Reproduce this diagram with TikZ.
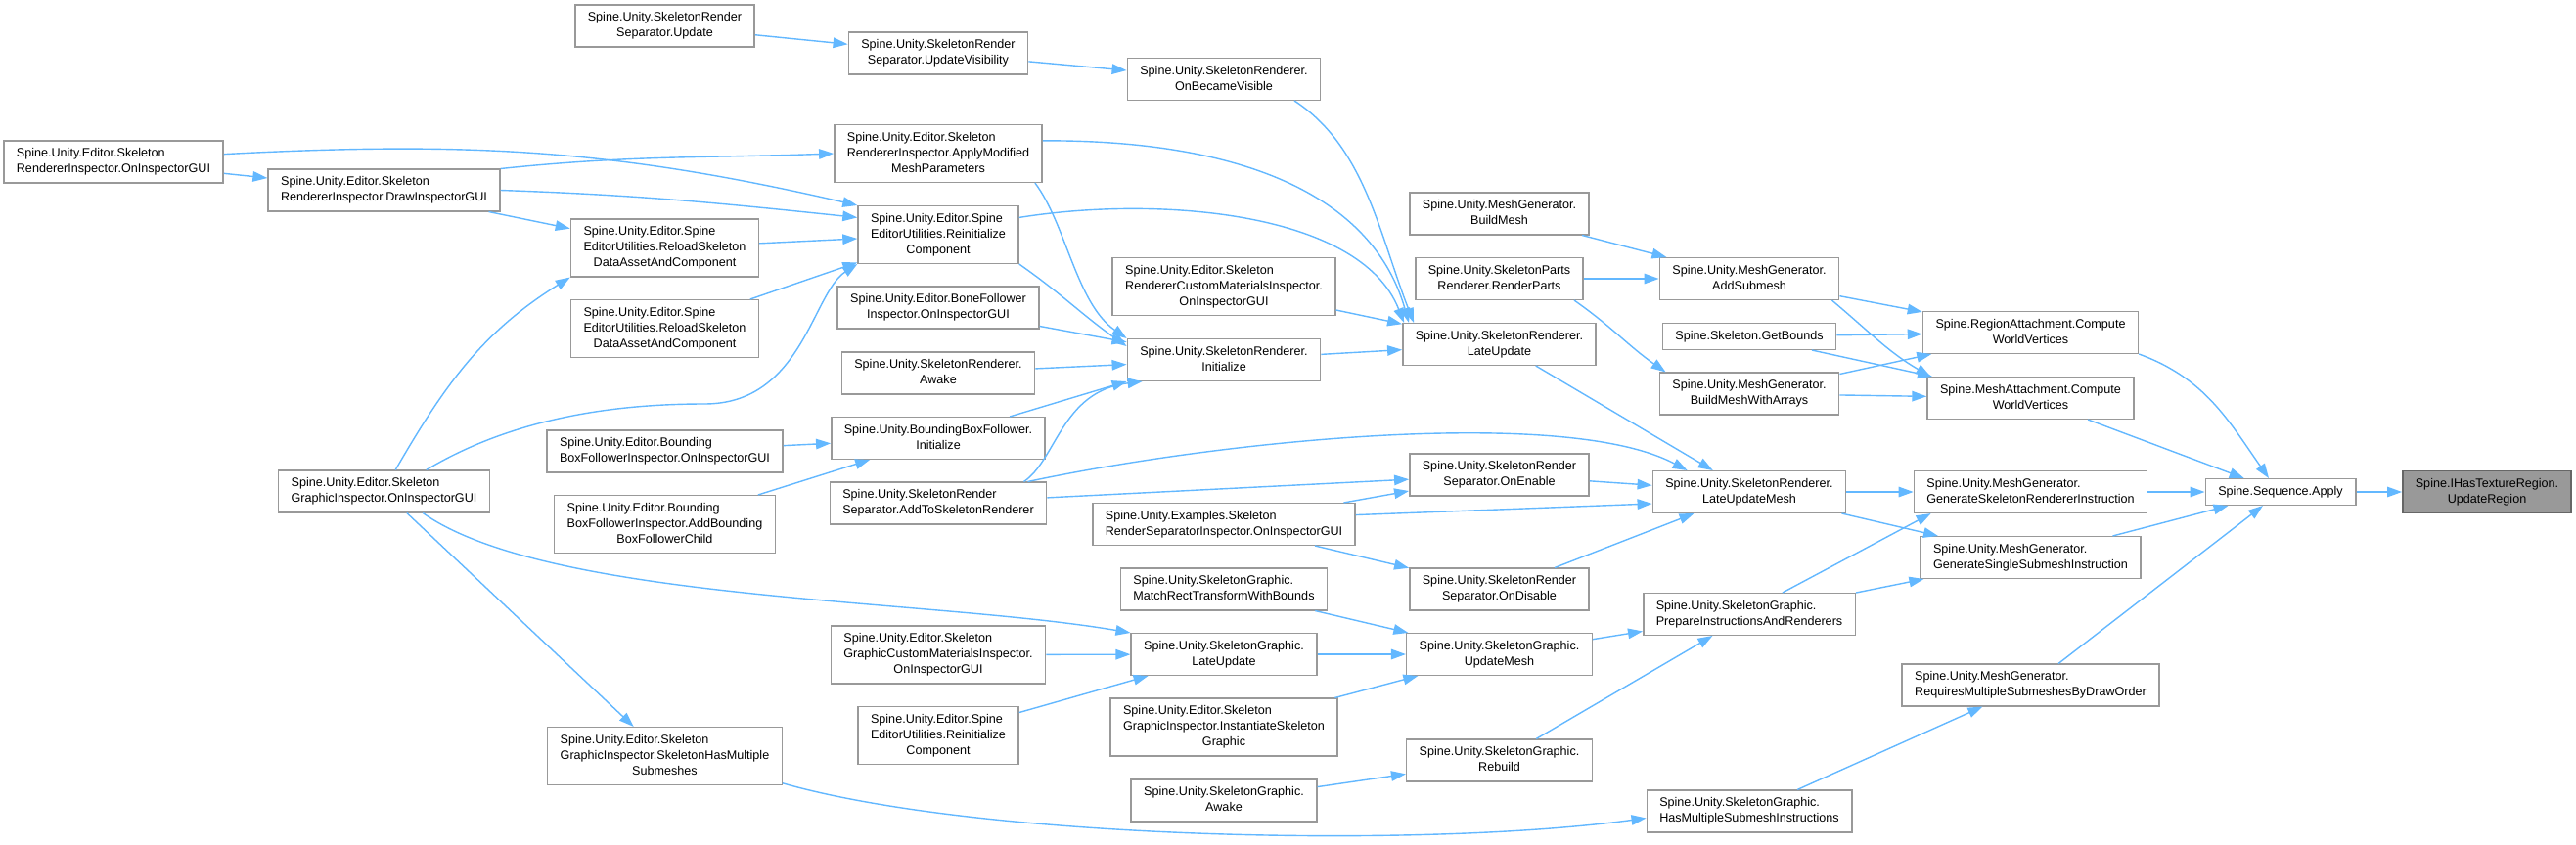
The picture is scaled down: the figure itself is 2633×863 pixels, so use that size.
\documentclass[tikz,border=0pt]{standalone}
\usepackage{fontspec}
\setmainfont{Liberation Sans}
\usetikzlibrary{arrows.meta}
\definecolor{cgEdge}{HTML}{63B8FF}
\definecolor{cgFrame}{HTML}{999999}
\definecolor{cgCurFill}{HTML}{999999}
\definecolor{cgCurFrame}{HTML}{666666}
\newcommand{\cgfont}{\fontsize{12.6}{16}\selectfont}
\newcommand{\lastln}[1]{\hspace*{\fill}#1\hspace*{\fill}}
\tikzset{
    fnode/.style={draw=cgFrame, fill=white, line width=1.5pt, align=left, inner xsep=13pt, inner ysep=7.4pt, font=\cgfont, execute at end node={\vphantom{p}}},
    curfn/.style={fnode, fill=cgCurFill, draw=cgCurFrame},
    callarrow/.style={draw=cgEdge, line width=1.4pt, -{Triangle[length=15pt,width=10.5pt]}}
}
\begin{document}
\begin{tikzpicture}[x=1pt,y=1pt]
\fill[white] (0,0) rectangle (2633,-863);
\useasboundingbox (0,0) rectangle (2633,-863);
% column 0
\node[fnode] (SRIOnInsp) at (116,-165.5) {Spine.Unity.Editor.Skeleton\\\lastln{RendererInspector.OnInspectorGUI}};
% column 1
\node[fnode] (SRIDraw) at (392.5,-194.5) {Spine.Unity.Editor.Skeleton\\\lastln{RendererInspector.DrawInspectorGUI}};
\node[fnode] (SGIOnInsp) at (392.5,-502.5) {Spine.Unity.Editor.Skeleton\\\lastln{GraphicInspector.OnInspectorGUI}};
% column 2
\node[fnode] (SRSUpdate) at (679.5,-26.5) {Spine.Unity.SkeletonRender\\\lastln{Separator.Update}};
\node[fnode] (SEUReload1) at (679.5,-253.5) {Spine.Unity.Editor.Spine\\EditorUtilities.ReloadSkeleton\\\lastln{DataAssetAndComponent}};
\node[fnode] (SEUReload2) at (679.5,-336) {Spine.Unity.Editor.Spine\\EditorUtilities.ReloadSkeleton\\\lastln{DataAssetAndComponent}};
\node[fnode] (BBFInsp) at (679.5,-461.5) {Spine.Unity.Editor.Bounding\\\lastln{BoxFollowerInspector.OnInspectorGUI}};
\node[fnode] (BBFAdd) at (679.5,-536) {Spine.Unity.Editor.Bounding\\BoxFollowerInspector.AddBounding\\\lastln{BoxFollowerChild}};
\node[fnode] (SGIHasMult) at (679.5,-773) {Spine.Unity.Editor.Skeleton\\GraphicInspector.SkeletonHasMultiple\\\lastln{Submeshes}};
% column 3
\node[fnode] (SRSUpdVis) at (959,-54.5) {Spine.Unity.SkeletonRender\\\lastln{Separator.UpdateVisibility}};
\node[fnode] (SRIApply) at (959,-157) {Spine.Unity.Editor.Skeleton\\RendererInspector.ApplyModified\\\lastln{MeshParameters}};
\node[fnode] (SEUReinit1) at (959,-240) {Spine.Unity.Editor.Spine\\EditorUtilities.Reinitialize\\\lastln{Component}};
\node[fnode] (BFInsp) at (959,-314.5) {Spine.Unity.Editor.BoneFollower\\\lastln{Inspector.OnInspectorGUI}};
\node[fnode] (SRAwake) at (959,-381.5) {Spine.Unity.SkeletonRenderer.\\\lastln{Awake}};
\node[fnode] (BBFInit) at (959,-448) {Spine.Unity.BoundingBoxFollower.\\\lastln{Initialize}};
\node[fnode] (SRSAddTo) at (959,-514.5) {Spine.Unity.SkeletonRender\\\lastln{Separator.AddToSkeletonRenderer}};
\node[fnode] (SGCMInsp) at (959,-669.5) {Spine.Unity.Editor.Skeleton\\GraphicCustomMaterialsInspector.\\\lastln{OnInspectorGUI}};
\node[fnode] (SEUReinit2) at (959,-752) {Spine.Unity.Editor.Spine\\EditorUtilities.Reinitialize\\\lastln{Component}};
% column 4
\node[fnode] (SROnBecVis) at (1251,-81) {Spine.Unity.SkeletonRenderer.\\\lastln{OnBecameVisible}};
\node[fnode] (SRCMInsp) at (1251,-293) {Spine.Unity.Editor.Skeleton\\RendererCustomMaterialsInspector.\\\lastln{OnInspectorGUI}};
\node[fnode] (SRInit) at (1251,-368) {Spine.Unity.SkeletonRenderer.\\\lastln{Initialize}};
\node[fnode] (SRSIOnInsp) at (1251,-536) {Spine.Unity.Examples.Skeleton\\\lastln{RenderSeparatorInspector.OnInspectorGUI}};
\node[fnode] (SGMatch) at (1251,-602.5) {Spine.Unity.SkeletonGraphic.\\\lastln{MatchRectTransformWithBounds}};
\node[fnode] (SGLateUpd) at (1251,-669) {Spine.Unity.SkeletonGraphic.\\\lastln{LateUpdate}};
\node[fnode] (SGIInst) at (1251,-743.5) {Spine.Unity.Editor.Skeleton\\GraphicInspector.InstantiateSkeleton\\\lastln{Graphic}};
\node[fnode] (SGAwake) at (1251,-818.5) {Spine.Unity.SkeletonGraphic.\\\lastln{Awake}};
% column 5
\node[fnode] (MGBuildMesh) at (1532.5,-218.5) {Spine.Unity.MeshGenerator.\\\lastln{BuildMesh}};
\node[fnode] (SPRRender) at (1532.5,-285) {Spine.Unity.SkeletonParts\\\lastln{Renderer.RenderParts}};
\node[fnode] (SRLateUpd) at (1532.5,-352) {Spine.Unity.SkeletonRenderer.\\\lastln{LateUpdate}};
\node[fnode] (SRSOnEnable) at (1532.5,-485.5) {Spine.Unity.SkeletonRender\\\lastln{Separator.OnEnable}};
\node[fnode] (SRSOnDisable) at (1532.5,-602.5) {Spine.Unity.SkeletonRender\\\lastln{Separator.OnDisable}};
\node[fnode] (SGUpdateMesh) at (1532.5,-669) {Spine.Unity.SkeletonGraphic.\\\lastln{UpdateMesh}};
\node[fnode] (SGRebuild) at (1532.5,-777.5) {Spine.Unity.SkeletonGraphic.\\\lastln{Rebuild}};
% column 6
\node[fnode] (MGAddSub) at (1788,-285) {Spine.Unity.MeshGenerator.\\\lastln{AddSubmesh}};
\node[fnode] (SkGetBounds) at (1788,-344) {Spine.Skeleton.GetBounds};
\node[fnode] (MGBMWA) at (1788,-402.5) {Spine.Unity.MeshGenerator.\\\lastln{BuildMeshWithArrays}};
\node[fnode] (SRLUMesh) at (1788,-503) {Spine.Unity.SkeletonRenderer.\\\lastln{LateUpdateMesh}};
\node[fnode] (SGPrepare) at (1788,-628) {Spine.Unity.SkeletonGraphic.\\\lastln{PrepareInstructionsAndRenderers}};
\node[fnode] (SGHasMult) at (1788,-829.5) {Spine.Unity.SkeletonGraphic.\\\lastln{HasMultipleSubmeshInstructions}};
% column 7
\node[fnode] (RACompute) at (2075.5,-340) {Spine.RegionAttachment.Compute\\\lastln{WorldVertices}};
\node[fnode] (MACompute) at (2075.5,-407) {Spine.MeshAttachment.Compute\\\lastln{WorldVertices}};
\node[fnode] (MGGenSkel) at (2075.5,-503) {Spine.Unity.MeshGenerator.\\\lastln{GenerateSkeletonRendererInstruction}};
\node[fnode] (MGGenSingle) at (2075.5,-570) {Spine.Unity.MeshGenerator.\\\lastln{GenerateSingleSubmeshInstruction}};
\node[fnode] (MGRequires) at (2075.5,-700.5) {Spine.Unity.MeshGenerator.\\\lastln{RequiresMultipleSubmeshesByDrawOrder}};
% columns 8, 9
\node[fnode] (SeqApply) at (2331,-503) {Spine.Sequence.Apply};
\node[curfn] (UpdateRegion) at (2542,-503) {Spine.IHasTextureRegion.\\\lastln{UpdateRegion}};

\draw[callarrow] (SRSUpdate) -- (SRSUpdVis);
\draw[callarrow] (SRSUpdVis) -- (SROnBecVis);
\draw[callarrow] (SROnBecVis.-17) .. controls (1395,-150) and (1410,-240) .. ([xshift=12pt]SRLateUpd.north west);
\draw[callarrow] (SRIOnInsp) -- (SRIDraw);
\draw[callarrow] (SRIOnInsp.4) to[out=3,in=167] (SEUReinit1.north west);
\draw[callarrow] (SRIDraw.north east) to[out=6,in=182] (SRIApply.west);
\draw[callarrow] (SRIDraw.east) to[out=-2,in=174] (SEUReinit1.168);
\draw[callarrow] (SRIDraw) -- (SEUReload1);
\draw[callarrow] (SGIOnInsp.62) to[out=60,in=212] (SEUReload1.south west);
\draw[callarrow] (SGIOnInsp.27) .. controls (520,-430) and (620,-413) .. (720,-413) .. controls (820,-413) and (830,-300) .. (SEUReinit1.south west);
\draw[callarrow] (SEUReload1) -- (SEUReinit1);
\draw[callarrow] (SEUReload2) -- (SEUReinit1);
\draw[callarrow] (SRIApply.7) .. controls (1250,-143) and (1400,-190) .. ([xshift=7pt]SRLateUpd.north west);
\draw[callarrow] (SEUReinit1.12) .. controls (1180,-200) and (1390,-215) .. ([xshift=2pt]SRLateUpd.north west);
\draw[callarrow] (SRCMInsp) -- (SRLateUpd);
\draw[callarrow] (SRInit) -- (SRLateUpd);
\draw[callarrow] ([xshift=-8pt]SRIApply.south east) .. controls (1090,-230) and (1100,-310) .. (SRInit.north west);
\draw[callarrow] (SEUReinit1.south east) to[out=-35,in=145] (SRInit.172);
\draw[callarrow] (BFInsp) -- (SRInit);
\draw[callarrow] (SRAwake) -- (SRInit);
\draw[callarrow] (BBFInit) -- (SRInit.south west);
\draw[callarrow] ([xshift=-24pt]SRSAddTo.north east) .. controls (1080,-470) and (1085,-400) .. ([xshift=16pt]SRInit.south west);
\draw[callarrow] (BBFInsp) -- (BBFInit);
\draw[callarrow] (BBFAdd) -- (BBFInit);
\draw[callarrow] (SRSAddTo) -- (SRSOnEnable);
\draw[callarrow] ([xshift=-20pt]SRSAddTo.north east) .. controls (1250,-450) and (1600,-415) .. ([xshift=36pt]SRLUMesh.north west);
\draw[callarrow] (SRSIOnInsp) -- (SRSOnEnable);
\draw[callarrow] (SRSIOnInsp.4) -- ([yshift=-12pt]SRLUMesh.west);
\draw[callarrow] (SRSIOnInsp) -- (SRSOnDisable);
\draw[callarrow] (SRSOnEnable) -- (SRLUMesh);
\draw[callarrow] (SRSOnDisable) -- (SRLUMesh);
\draw[callarrow] (SRLateUpd) -- (SRLUMesh);
\draw[callarrow] (SRLUMesh) -- (MGGenSkel);
\draw[callarrow] (SRLUMesh) -- (MGGenSingle);
\draw[callarrow] (SGPrepare.33) -- ([xshift=18pt]MGGenSkel.south west);
\draw[callarrow] (SGPrepare) -- (MGGenSingle);
\draw[callarrow] (SGMatch) -- (SGUpdateMesh);
\draw[callarrow] (SGLateUpd) -- (SGUpdateMesh);
\draw[callarrow] (SGIInst) -- (SGUpdateMesh);
\draw[callarrow] (SGUpdateMesh) -- (SGPrepare);
\draw[callarrow] (SGRebuild) -- (SGPrepare);
\draw[callarrow] (SGAwake) -- (SGRebuild);
\draw[callarrow] (SGIHasMult.-13) .. controls (1000,-858) and (1450,-868) .. ([yshift=-7pt]SGHasMult.west);
\draw[callarrow] (SGHasMult) -- (MGRequires);
\draw[callarrow] (SGIOnInsp) -- (SGIHasMult);
\draw[callarrow] (SGIOnInsp.-29) .. controls (560,-615) and (950,-612) .. (SGLateUpd.north west);
\draw[callarrow] (SGCMInsp) -- (SGLateUpd);
\draw[callarrow] (SEUReinit2) -- (SGLateUpd);
\draw[callarrow] (MGBuildMesh) -- (MGAddSub);
\draw[callarrow] (SPRRender) -- (MGAddSub);
\draw[callarrow] ([xshift=-10pt]SPRRender.south east) to[out=-35,in=145] ([xshift=7pt]MGBMWA.north west);
\draw[callarrow] (MGAddSub) -- (RACompute);
\draw[callarrow] ([xshift=-8pt]MGAddSub.south east) to[out=-40,in=150] ([xshift=4pt]MACompute.north west);
\draw[callarrow] (SkGetBounds) -- (RACompute);
\draw[callarrow] (SkGetBounds) -- (MACompute);
\draw[callarrow] (MGBMWA) -- (RACompute);
\draw[callarrow] (MGBMWA) -- (MACompute);
\draw[callarrow] (RACompute.south east) to[out=-20,in=125] ([xshift=-12pt]SeqApply.north);
\draw[callarrow] (MACompute) -- (SeqApply);
\draw[callarrow] (MGGenSkel) -- (SeqApply);
\draw[callarrow] (MGGenSingle) -- (SeqApply);
\draw[callarrow] (MGRequires) -- (SeqApply);
\draw[callarrow] (SeqApply) -- (UpdateRegion);
\end{tikzpicture}
\end{document}
